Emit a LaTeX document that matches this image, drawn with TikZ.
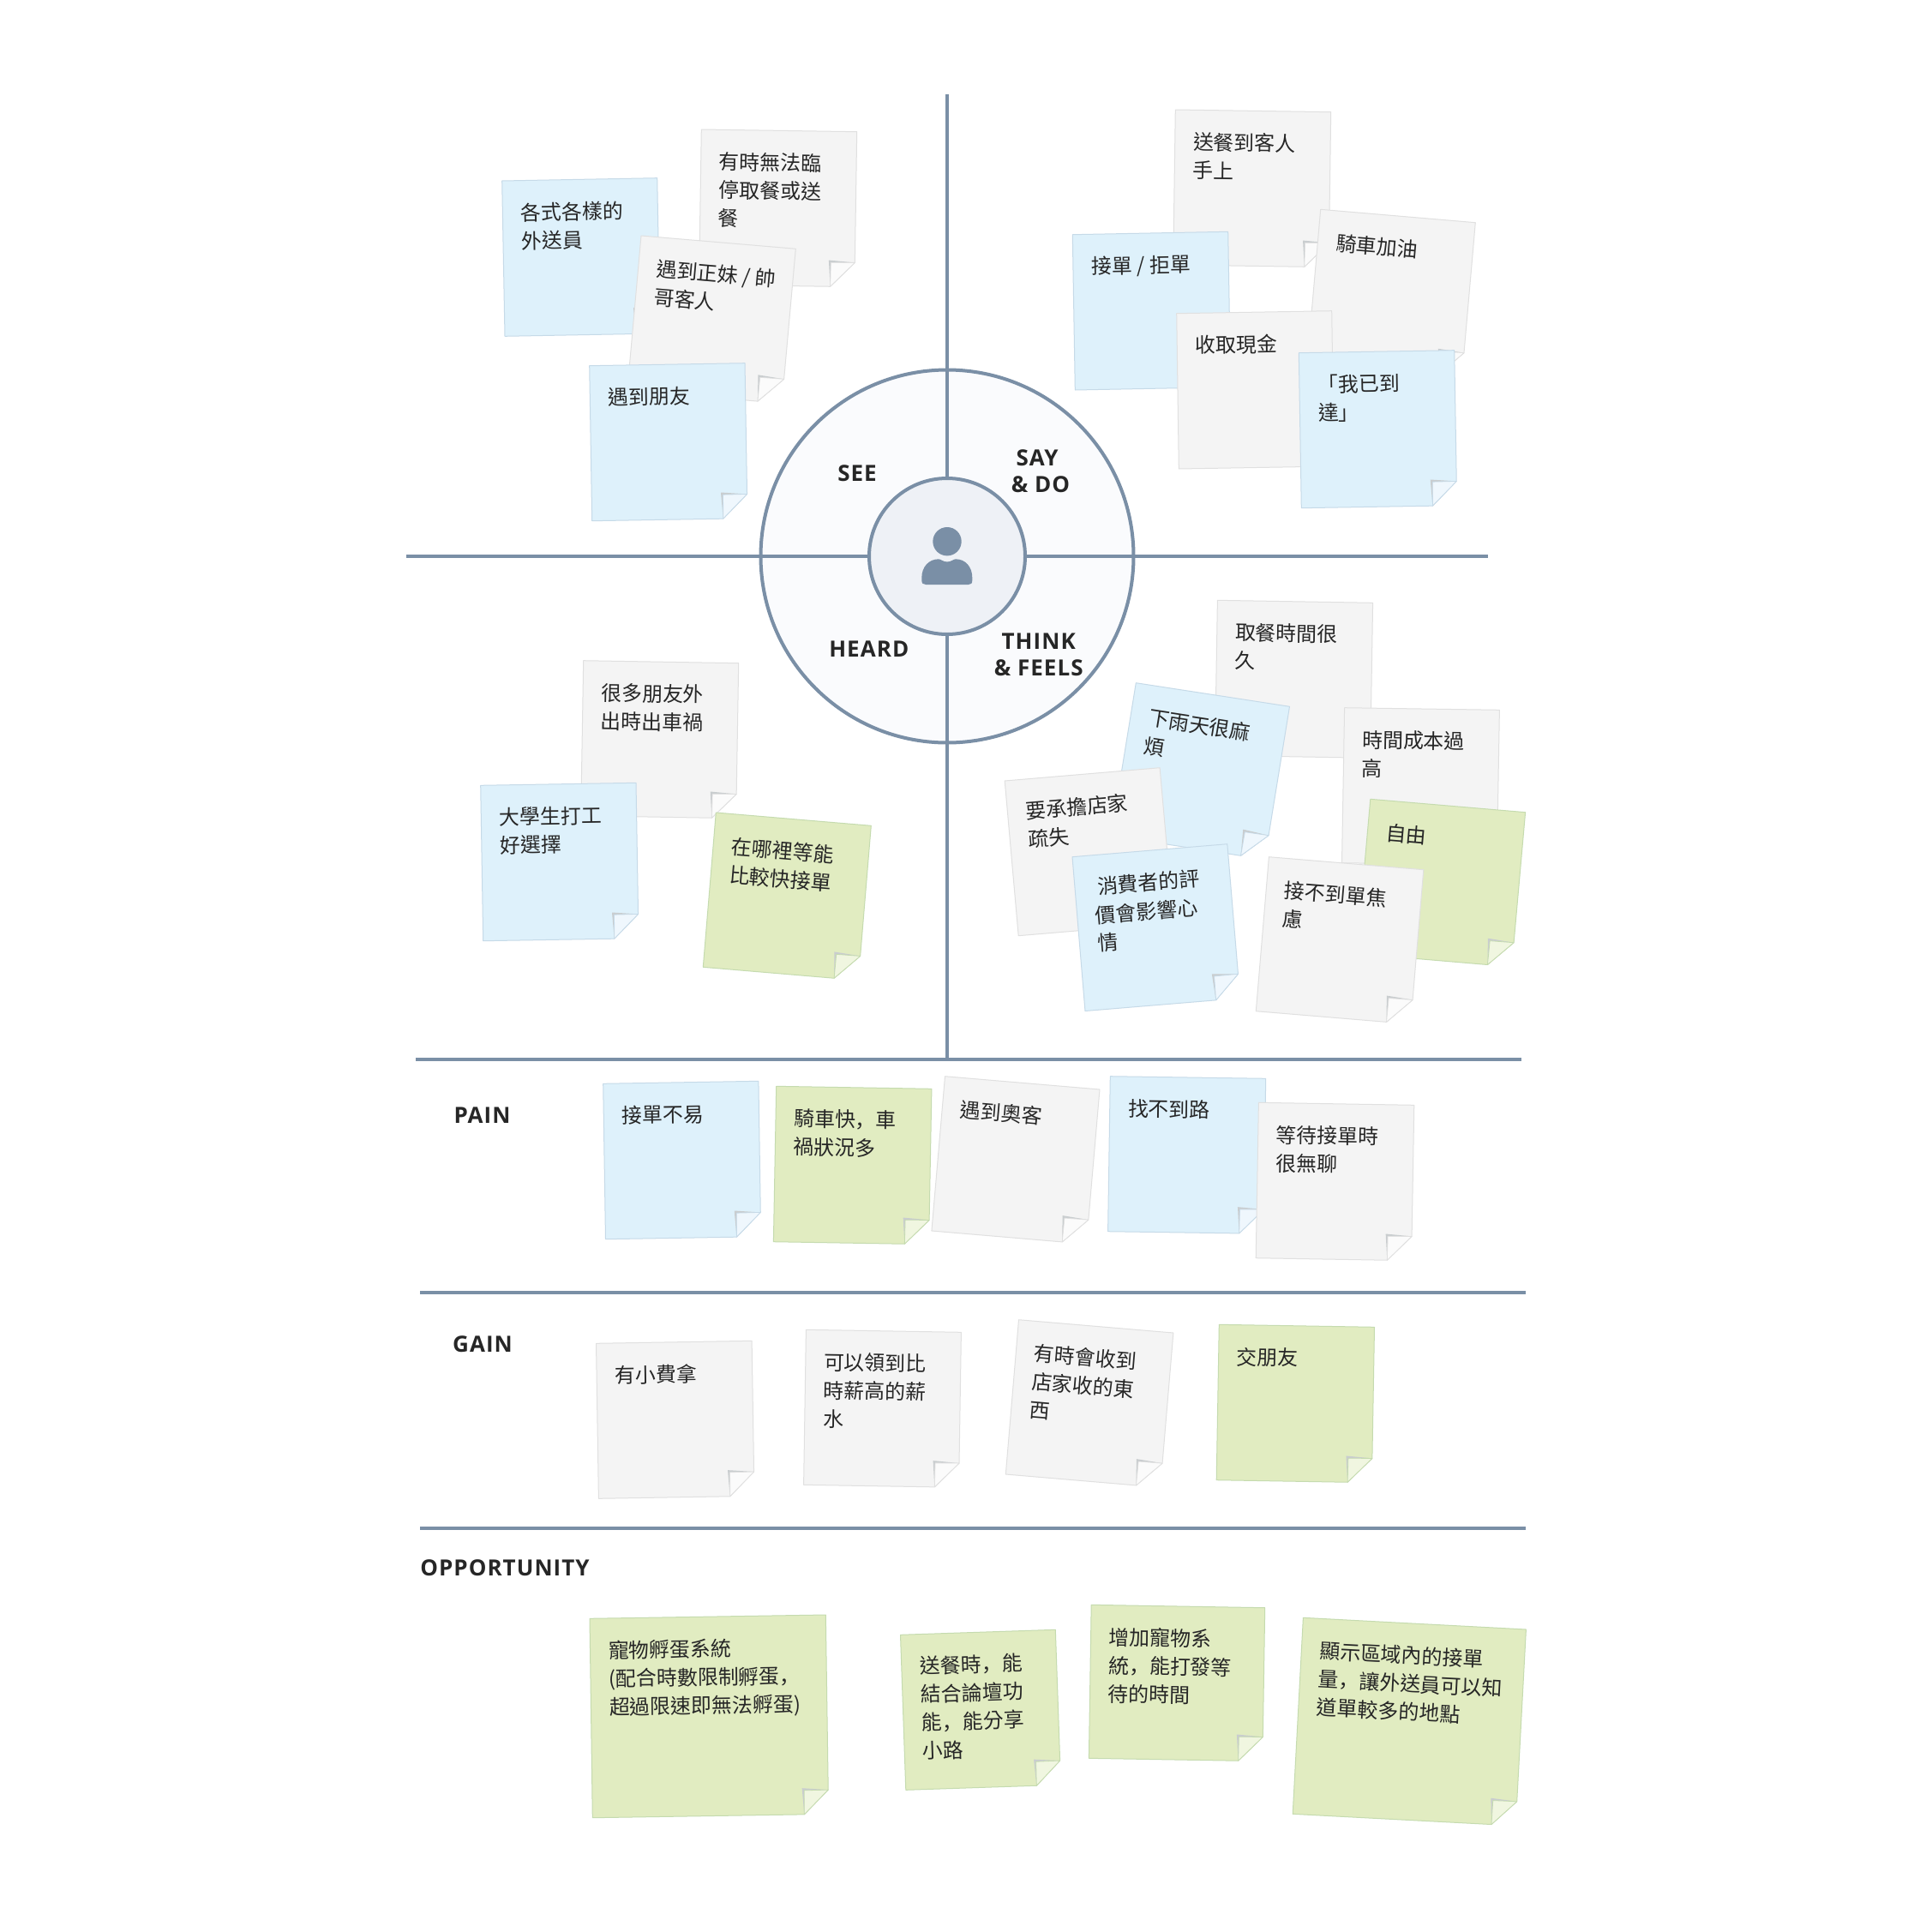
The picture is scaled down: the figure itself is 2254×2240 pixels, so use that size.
\documentclass[tikz,border=0pt]{standalone}
\usepackage{fontspec}
\setmainfont{Open Sans}
\newfontfamily\cjkfont{Noto Sans CJK TC}
\newfontfamily\commafont{Noto Sans CJK SC}
\newfontfamily\labelfont[LetterSpace=4.0]{Open Sans}
\newcommand\zc{{\commafont ，}}
\definecolor{noteblue}{HTML}{DEF1FB}
\definecolor{noteblueedge}{HTML}{C6DAE8}
\definecolor{noteblueflap}{HTML}{EFF7FD}
\definecolor{notegrey}{HTML}{F4F4F4}
\definecolor{notegreyedge}{HTML}{E0E0E0}
\definecolor{notegreyflap}{HTML}{FBFBFB}
\definecolor{notegreen}{HTML}{E1ECC1}
\definecolor{notegreenedge}{HTML}{C5DBAF}
\definecolor{notegreenflap}{HTML}{F0F6E0}
\definecolor{foldshade}{HTML}{C9CDCF}
\definecolor{slateline}{HTML}{7A8FA6}
\definecolor{ringfill}{HTML}{FAFBFD}
\definecolor{hubfill}{HTML}{EEF1F6}
\definecolor{inktext}{HTML}{262626}
\tikzset{
  axisline/.style={draw=slateline,line width=4pt},
  notetext/.style={anchor=north west,inner sep=0pt,align=left,text=inktext,transform shape,
    font=\cjkfont\fontsize{23.9}{33}\selectfont},
  bandlabel/.style={anchor=base,inner sep=0pt,text=inktext,
    font=\labelfont\bfseries\fontsize{26}{31.3}\selectfont},
  ringlabel/.style={anchor=north,inner sep=0pt,align=center,text=inktext,
    font=\labelfont\bfseries\fontsize{26}{31.3}\selectfont},
}
% name, kind, TL x y, TR x y, BL x y, text
\newcommand\stickynote[9]{%
  \pgfmathsetmacro\nw{veclen(#5-#3,#6-#4)}%
  \pgfmathsetmacro\nh{veclen(#7-#3,#8-#4)}%
  \pgfmathsetmacro\na{(#5-#3)/\nw}%
  \pgfmathsetmacro\nb{-(#6-#4)/\nw}%
  \pgfmathsetmacro\nc{-(#7-#3)/\nh}%
  \pgfmathsetmacro\nd{(#8-#4)/\nh}%
  \pgfmathsetmacro\fx{\nw-28.3}%
  \pgfmathsetmacro\fy{\nh-28.3}%
  \begin{scope}[cm={\na,\nb,\nc,\nd,(#3,#4)}]
    \filldraw[fill=note#2,draw=note#2edge,line width=1pt,line join=round]
      (0,0) -- (\nw,0) -- (\nw,\fy) -- (\fx,\nh) -- (0,\nh) -- cycle;
    \fill[foldshade] (\fx-2.2,\fy-2.4) -- (\nw,\fy) -- (\fx,\nh) -- cycle;
    \filldraw[fill=note#2flap,draw=note#2edge,line width=0.8pt,line join=round]
      (\fx+0.3,\fy+0.3) -- (\nw,\fy) -- (\fx,\nh) -- cycle;
    \node[notetext] (#1) at (21.2,26) {\rule{0pt}{20pt}#9};
  \end{scope}}
\begin{document}
\begin{tikzpicture}[x=1pt,y=-1pt]
\useasboundingbox (0,0) rectangle (2254,2240);
\fill[white] (0,0) rectangle (2254,2240);
% wheel and axes
\filldraw[fill=ringfill,draw=slateline,line width=4pt] (1105,649) circle[radius=217.5];
\draw[axisline] (474,649) -- (1736,649);
\draw[axisline] (1105,110) -- (1105,1235);
\filldraw[fill=hubfill,draw=slateline,line width=4pt] (1105,649) circle[radius=91];
% person
\fill[slateline] (1105,631.7) circle[radius=16.7];
\fill[slateline] (1075.3,677) -- (1075.3,674) .. controls (1075.3,661) and (1084,652.3) .. (1095,652.3)
  .. controls (1098,652.3) and (1100,655.5) .. (1105,655.5) .. controls (1110,655.5) and (1112,652.3) .. (1115,652.3)
  .. controls (1126,652.3) and (1134.3,661) .. (1134.3,674) -- (1134.3,677)
  .. controls (1134.3,680.5) and (1133,682) .. (1130,682) -- (1080,682)
  .. controls (1077,682) and (1075.3,680.5) .. (1075.3,677) -- cycle;
% band rules
\draw[axisline] (485,1235.5) -- (1775,1235.5);
\draw[axisline] (490,1507.5) -- (1779.7,1507.5);
\draw[axisline] (490,1783.3) -- (1780,1783.3);
% labels
\node[bandlabel] (see) at (1000,561.3) {SEE};
\node[bandlabel] (heard) at (1013.8,766) {HEARD};
\node[ringlabel] (saydo) at (1214,523.3) {\rule{0pt}{20pt}SAY\hspace*{8pt}\\\& DO};
\node[ringlabel] (thinkfeels) at (1211.7,737) {\rule{0pt}{20pt}THINK\\\& FEELS};
\node[bandlabel] (pain) at (562.5,1310) {PAIN};
\node[bandlabel] (gain) at (563,1577) {GAIN};
\node[bandlabel] (opportunity) at (589,1838) {OPPORTUNITY};
% SEE
\stickynote{n2}{blue}{585.7}{211}{766.7}{207.7}{589}{392.3}{各式各樣的\\外送員}
\stickynote{n1}{grey}{818.3}{151}{999.7}{153.7}{815.5}{332}{有時無法臨\\停取餐或送\\餐}
\stickynote{n3}{grey}{748}{275}{928.3}{290.3}{731.8}{455.2}{遇到正妹 / 帥\\哥客人}
\stickynote{n4}{blue}{687.7}{426.7}{869}{423.7}{690.7}{607.7}{遇到朋友}
% SAY & DO
\stickynote{n5}{grey}{1371.3}{128}{1552.7}{130.7}{1368.7}{309}{送餐到客人\\手上}
\stickynote{n6}{blue}{1251.3}{273.7}{1432.7}{270.3}{1254.3}{455}{接單 / 拒單}
\stickynote{n7}{grey}{1540.7}{244.3}{1721.3}{259.7}{1524.9}{424.5}{騎車加油}
\stickynote{n8}{grey}{1372.7}{365.7}{1553.7}{362.7}{1375.3}{547}{收取現金}
\stickynote{n9}{blue}{1515.3}{411.7}{1696.7}{408.7}{1518.3}{592.7}{「我已到\\達」}
% HEARD
\stickynote{n10}{grey}{680.7}{770.7}{861.7}{773.7}{677.7}{951.7}{很多朋友外\\出時出車禍}
\stickynote{n11}{blue}{560.7}{916.3}{742}{913.3}{563.7}{1097.7}{大學生打工\\好選擇}
\stickynote{n12}{green}{835.3}{948}{1016.3}{963.3}{820.3}{1128.3}{在哪裡等能\\比較快接單}
% THINK & FEELS
\stickynote{n13}{grey}{1420.4}{700.3}{1601.6}{703.3}{1417.4}{881.3}{取餐時間很\\久}
\stickynote{n14}{blue}{1325.3}{796.7}{1504.5}{824.3}{1296.3}{975}{下雨天很麻\\煩}
\stickynote{n15}{grey}{1172.2}{911}{1353.1}{895.7}{1188.2}{1091.7}{要承擔店家\\疏失}
\stickynote{n16}{blue}{1251}{999.7}{1431.8}{984.7}{1266}{1179.5}{\hspace*{5pt}消費者的評\\價會影響心\\情}
\stickynote{n17}{grey}{1568.6}{825.7}{1749.4}{828.3}{1565.5}{1006.7}{時間成本過\\高}
\stickynote{n18}{green}{1598.8}{932.3}{1779.6}{947.7}{1582.8}{1112.5}{自由}
\stickynote{n19}{grey}{1480.4}{999.7}{1660.8}{1014.7}{1465.3}{1179.7}{接不到單焦\\慮}
% PAIN
\stickynote{n20}{blue}{703.7}{1264.3}{884.9}{1261.3}{706.5}{1445.7}{接單不易}
\stickynote{n21}{green}{905.7}{1267.3}{1086.9}{1270.3}{902.4}{1448.7}{騎車快\zc 車\\禍狀況多}
\stickynote{n22}{grey}{1102.5}{1255.7}{1283}{1271}{1086.9}{1436}{遇到奧客}
\stickynote{n23}{blue}{1295.3}{1255.7}{1476.7}{1258.3}{1292.6}{1436.7}{找不到路}
\stickynote{n24}{grey}{1468.4}{1286.3}{1649.8}{1289.3}{1465.2}{1467.7}{等待接單時\\很無聊}
% GAIN
\stickynote{n25}{grey}{695.5}{1567.3}{877.1}{1564.3}{698.4}{1748.3}{有小費拿}
\stickynote{n26}{grey}{940.4}{1551.3}{1121.4}{1554.3}{937.6}{1732.3}{可以領到比\\時薪高的薪\\水}
\stickynote{n27}{grey}{1188.5}{1539.7}{1368.9}{1555}{1173.3}{1720}{有時會收到\\店家收的東\\西}
\stickynote{n28}{green}{1422.3}{1545.3}{1603.5}{1548.3}{1419.2}{1726.7}{交朋友}
% OPPORTUNITY
\stickynote{n29}{green}{688}{1888.3}{963.3}{1884}{691.3}{2120.7}{寵物孵蛋系統\\(配合時數限制孵蛋\zc\\超過限速即無法孵蛋)}
\stickynote{n30}{green}{1050.5}{1907.3}{1231.3}{1901.3}{1056.8}{2088.3}{送餐時\zc 能\\結合論壇功\\能\zc 能分享\\小路}
\stickynote{n31}{green}{1273.2}{1872.3}{1475.7}{1875.7}{1270.4}{2051.3}{增加寵物系\\統\zc 能打發等\\待的時間}
\stickynote{n32}{green}{1520.4}{1887.3}{1780.4}{1901}{1508.2}{2116.3}{顯示區域內的接單\\量\zc 讓外送員可以知\\道單較多的地點}
\end{tikzpicture}
\end{document}
